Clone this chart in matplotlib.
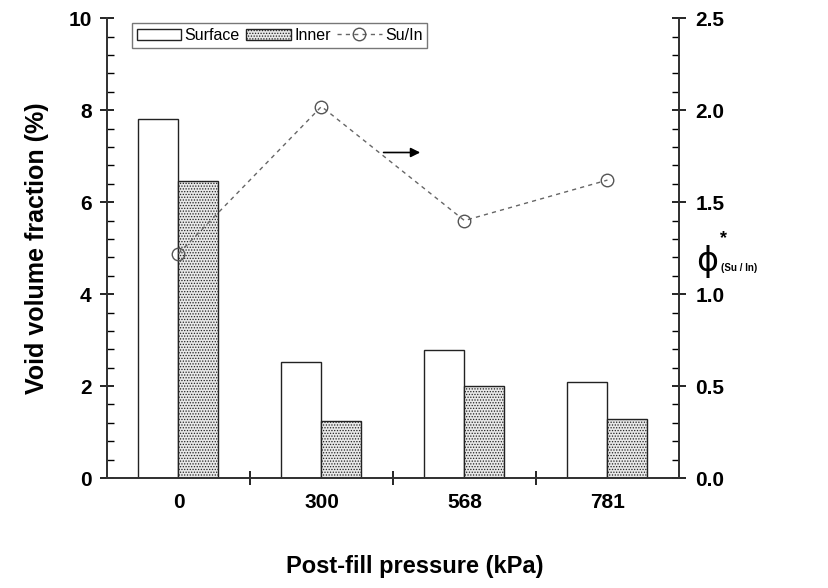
import matplotlib
matplotlib.use("Agg")
import matplotlib.pyplot as plt
import numpy as np

# data
pressures = ["0", "300", "568", "781"]
surface = [7.8, 2.52, 2.78, 2.09]
inner = [6.46, 1.24, 2.0, 1.28]
ratio = [1.22, 2.02, 1.40, 1.62]

plt.rcParams['font.family'] = ['Liberation Sans', 'DejaVu Sans']
plt.rcParams['hatch.color'] = '#999999'
plt.rcParams['hatch.linewidth'] = 0.6

fig = plt.figure(figsize=(8.29, 5.88), dpi=100)
ax = fig.add_axes([0.129, 0.187, 0.690, 0.782])
ax2 = ax.twinx()

x = np.arange(len(pressures))
w = 0.28
b1 = ax.bar(x - w / 2, surface, w, facecolor='white', edgecolor='#222222', linewidth=1.0, label='Surface')
b2 = ax.bar(x + w / 2, inner, w, facecolor='#e8e8e8', edgecolor='#222222', linewidth=1.0,
            hatch='......', label='Inner')
ln, = ax2.plot(x, ratio, linestyle=(0, (3, 3)), color='#666666', linewidth=1.0,
               marker='o', markersize=9, markerfacecolor='none', markeredgecolor='#555555',
               markeredgewidth=1.0, label='Su/In')

ax.set_xlim(-0.5, 3.5)
ax.set_ylim(0, 10)
ax2.set_ylim(0, 2.5)

ax.set_xticks(x)
ax.set_xticklabels(pressures, fontsize=15, fontweight='bold')
ax.set_xticks([0.5, 1.5, 2.5], minor=True)
ax.tick_params(axis='x', which='major', length=0, pad=11)
ax.tick_params(axis='x', which='minor', direction='inout', length=10, width=1.2)

ax.set_yticks(np.arange(0, 11, 2))
ax.set_yticks(np.arange(0, 10.01, 0.4), minor=True)
ax.tick_params(axis='y', which='major', direction='inout', length=10, width=1.2, labelsize=15, pad=6)
ax.tick_params(axis='y', which='minor', direction='in', length=5, width=1.0)
for t in ax.get_yticklabels():
    t.set_fontweight('bold')

ax2.set_yticks(np.arange(0, 2.51, 0.5))
ax2.set_yticks(np.arange(0, 2.51, 0.1), minor=True)
ax2.tick_params(axis='y', which='major', direction='inout', length=10, width=1.2, labelsize=15, pad=7)
ax2.tick_params(axis='y', which='minor', direction='in', length=5, width=1.0)
ax2.set_yticklabels([f"{v:.1f}" for v in np.arange(0, 2.51, 0.5)], fontweight='bold')

for a in (ax, ax2):
    a.spines['top'].set_visible(False)
    for s in ('left', 'right', 'bottom'):
        a.spines[s].set_linewidth(1.3)
        a.spines[s].set_color('#333333')

ax.set_ylabel("Void volume fraction (%)", fontsize=18, fontweight='bold', labelpad=14)
fig.text(0.5, 0.025, "Post-fill pressure (kPa)", fontsize=17, fontweight='bold', ha='center')

fig.text(0.84, 0.555, "\u03d5", fontsize=24, ha='left', va='center', family=['DejaVu Sans'])
fig.text(0.868, 0.595, "*", fontsize=13, fontweight='bold', ha='left', va='center')
fig.text(0.870, 0.545, "(Su / In)", fontsize=7, fontweight='bold', ha='left', va='center')

ax2.annotate("", xy=(1.71, 1.77), xytext=(1.415, 1.77),
             arrowprops=dict(arrowstyle='-|>', color='black', lw=1.2, mutation_scale=14))

leg = ax.legend([b1, b2, ln], ['Surface', 'Inner', 'Su/In'], loc='upper left', ncol=3,
                bbox_to_anchor=(0.035, 1.0), fontsize=11.5, frameon=True, fancybox=False,
                edgecolor='#555555', handlelength=2.8, handletextpad=0.2, columnspacing=0.4,
                borderpad=0.3, borderaxespad=0.3)
leg.get_frame().set_linewidth(1.0)

fig.savefig("out.png", dpi=100)
